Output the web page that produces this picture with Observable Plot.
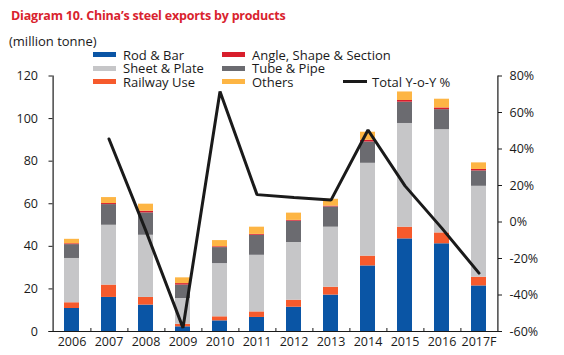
<!DOCTYPE html>
<html>
<head>
<meta charset="utf-8">
<script src="https://cdn.jsdelivr.net/npm/d3@7"></script>
<script src="https://cdn.jsdelivr.net/npm/@observablehq/plot@0.6"></script>
<style>
  html, body { margin: 0; padding: 0; background: #fff; }
  #wrap { position: relative; width: 564px; height: 355px; font-family: "Open Sans", sans-serif; color: #1a1a1a; }
  #wrap svg { position: absolute; left: 0; top: 0; }
  .t { position: absolute; white-space: nowrap; line-height: 14px; }
  #title { left: 11px; top: 9px; font-size: 12.5px; font-weight: bold; color: #d9232e; letter-spacing: -0.2px; }
  #unit { left: 9px; top: 34px; font-size: 13px; }
  .lg { position: absolute; font-size: 13px; line-height: 12px; height: 12px; white-space: nowrap; }
  .sw { position: absolute; width: 23px; height: 5px; }
  .ln { position: absolute; width: 24px; height: 3px; background: #1a1a1a; }
</style>
</head>
<body>
<div id="wrap">
  <div id="chart"></div>
  <div class="t" id="title">Diagram 10. China’s steel exports by products</div>
  <div class="t" id="unit">(million tonne)</div>
  <div id="legend"></div>
</div>
<script>
// ---- data ----
const years = ["2006","2007","2008","2009","2010","2011","2012","2013","2014","2015","2016","2017F"];
const seriesNames = ["Rod & Bar","Railway Use","Sheet & Plate","Tube & Pipe","Angle, Shape & Section","Others"];
const rodBar     = [10.8, 16.0, 12.4,  2.2,  5.0,  6.6, 11.4, 17.1, 30.8, 43.5, 41.2, 21.4];
const railwayUse = [ 2.7,  5.8,  3.6,  1.2,  1.9,  2.6,  3.3,  3.7,  4.6,  5.5,  5.1,  4.1];
const sheetPlate = [20.8, 28.1, 29.2, 12.1, 25.0, 26.6, 27.1, 28.2, 43.6, 48.7, 48.5, 42.7];
const tubePipe   = [ 6.5,  9.7, 10.5,  6.3,  7.5,  9.4, 10.0,  9.5, 10.0, 10.0,  9.4,  7.2];
const angleShape = [ 0.4,  0.5,  0.8,  0.7,  0.4,  0.4,  0.4,  0.4,  0.8,  0.8,  0.8,  0.7];
const others     = [ 2.1,  2.8,  3.3,  2.7,  2.9,  3.4,  3.4,  3.2,  3.8,  4.0,  4.1,  3.1];
const totalYoY   = [null, 45.5, -5.0, -58.0, 71.5, 15.0, 13.4, 12.0, 50.4, 19.8, -3.5, -28.0];
const leftTicks  = [0, 20, 40, 60, 80, 100, 120];
const rightTicks = [-60, -40, -20, 0, 20, 40, 60, 80];

const colors = {
  "Rod & Bar": "#0a55a5",
  "Angle, Shape & Section": "#d81e2c",
  "Sheet & Plate": "#c6c6c8",
  "Tube & Pipe": "#6b6b70",
  "Railway Use": "#f65a2c",
  "Others": "#fdb544"
};
const seriesValues = [rodBar, railwayUse, sheetPlate, tubePipe, angleShape, others];

const barData = [];
years.forEach((y, i) => seriesNames.forEach((s, j) => barData.push({year: y, series: s, value: seriesValues[j][i]})));
const lineData = years.map((y, i) => ({year: y, pct: totalYoY[i]})).filter(d => d.pct !== null);

// percent axis mapped onto the tonne scale
const pMin = -60, pMax = 80, yMax = 120;
const pctToY = p => (p - pMin) / (pMax - pMin) * yMax;
const yToPct = v => Math.round(v / yMax * (pMax - pMin) + pMin);

// ---- layout ----
const W = 564, H = 355, mL = 48.5, mR = 62, mT = 75.5, mB = 24;
const plotW = W - mL - mR;
const step = plotW / years.length;
const tick = 4;

const chart = Plot.plot({
  width: W, height: H,
  marginLeft: mL, marginRight: mR, marginTop: mT, marginBottom: mB,
  style: {fontFamily: "Open Sans, sans-serif", fontSize: "12.5px", color: "#1a1a1a", background: "transparent"},
  x: {domain: years, paddingInner: 0.6, paddingOuter: 0.3, label: null},
  y: {domain: [0, yMax], label: null},
  color: {domain: Object.keys(colors), range: Object.values(colors)},
  marks: [
    Plot.barY(barData, {x: "year", y: "value", fill: "series", order: seriesNames}),
    // axis lines
    Plot.ruleY([0], {stroke: "#1a1a1a", strokeWidth: 1.2}),
    Plot.ruleX([years[0]], {dx: -step / 2, y1: 0, y2: yMax, stroke: "#1a1a1a", strokeWidth: 1.2}),
    Plot.ruleX([years[years.length - 1]], {dx: step / 2, y1: 0, y2: yMax, stroke: "#1a1a1a", strokeWidth: 1.2}),
    // inward ticks
    Plot.ruleY(leftTicks, {y: d => d, insetRight: plotW - tick, stroke: "#1a1a1a"}),
    Plot.ruleY(rightTicks.map(pctToY), {y: d => d, insetLeft: plotW - tick, stroke: "#1a1a1a"}),
    Plot.ruleX(years.slice(0, -1), {x: d => d, dx: step / 2, y1: 0, y2: 3 / ((H - mT - mB) / yMax), stroke: "#1a1a1a"}),
    // tick labels
    Plot.axisY(leftTicks, {anchor: "left", tickSize: 0, tickPadding: 11, label: null, fontSize: 12.5}),
    Plot.axisY(rightTicks.map(pctToY), {anchor: "right", tickSize: 0, tickPadding: 7, label: null, fontSize: 12.5, tickFormat: v => yToPct(v) + "%"}),
    Plot.axisX({tickSize: 0, tickPadding: 6, label: null, fontSize: 12.5}),
    // total yoy line
    Plot.line(lineData, {x: "year", y: d => pctToY(d.pct), stroke: "#1a1a1a", strokeWidth: 3, strokeLinejoin: "miter"})
  ]
});
document.getElementById("chart").appendChild(chart);

// ---- legend ----
const legendItems = [
  {label: "Rod & Bar", col: 0, row: 0, type: "sw"},
  {label: "Sheet & Plate", col: 0, row: 1, type: "sw"},
  {label: "Railway Use", col: 0, row: 2, type: "sw"},
  {label: "Angle, Shape & Section", col: 1, row: 0, type: "sw"},
  {label: "Tube & Pipe", col: 1, row: 1, type: "sw"},
  {label: "Others", col: 1, row: 2, type: "sw"},
  {label: "Total Y-o-Y %", col: 2, row: 2, type: "ln"}
];
const colX = [93, 222, 343];
const rowY = [54.5, 68.3, 81.7];
const lg = document.getElementById("legend");
legendItems.forEach(it => {
  const s = document.createElement("div");
  s.className = it.type;
  s.style.left = colX[it.col] + "px";
  if (it.type === "sw") { s.style.top = (rowY[it.row] - 2.5) + "px"; s.style.background = colors[it.label]; }
  else { s.style.top = (rowY[it.row] - 1.5) + "px"; }
  lg.appendChild(s);
  const t = document.createElement("div");
  t.className = "lg";
  t.textContent = it.label;
  t.style.left = (colX[it.col] + (it.type === "sw" ? 30 : 29)) + "px";
  t.style.top = (rowY[it.row] - 6) + "px";
  lg.appendChild(t);
});
</script>
</body>
</html>
